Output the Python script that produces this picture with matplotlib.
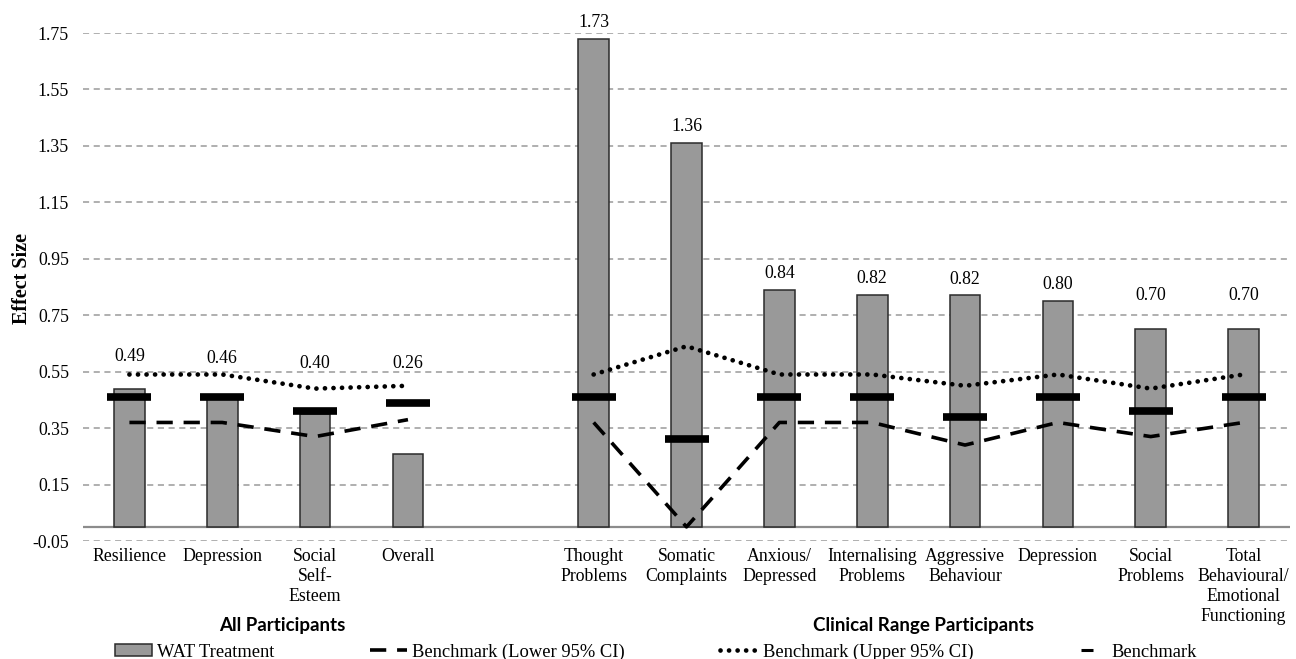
import numpy as np
import matplotlib
matplotlib.use("Agg")
from matplotlib import pyplot as plt
from matplotlib.lines import Line2D
from matplotlib.patches import Patch
from matplotlib import transforms

plt.rcParams['font.family'] = ['Liberation Serif', 'DejaVu Serif']

# categories (two groups, an empty slot between them)
group1 = ["Resilience", "Depression", "Social\nSelf-\nEsteem", "Overall"]
group2 = ["Thought\nProblems", "Somatic\nComplaints", "Anxious/\nDepressed", "Internalising\nProblems",
          "Aggressive\nBehaviour", "Depression", "Social\nProblems", "Total\nBehavioural/\nEmotional\nFunctioning"]
group_titles = ["All Participants", "Clinical Range Participants"]

wat = [0.49, 0.46, 0.40, 0.26, 1.73, 1.36, 0.84, 0.82, 0.82, 0.80, 0.70, 0.70]
benchmark = [0.46, 0.46, 0.41, 0.44, 0.46, 0.31, 0.46, 0.46, 0.39, 0.46, 0.41, 0.46]
lower_ci = [0.37, 0.37, 0.32, 0.38, 0.37, 0.00, 0.37, 0.37, 0.29, 0.37, 0.32, 0.37]
upper_ci = [0.54, 0.54, 0.49, 0.50, 0.54, 0.64, 0.54, 0.54, 0.50, 0.54, 0.49, 0.54]

yticks = np.arange(-0.05, 1.76, 0.2)

# layout: where the value labels sit (centre, data units)
label_y = [0.605, 0.595, 0.58, 0.58, 1.787, 1.418, 0.897, 0.879, 0.876, 0.858, 0.819, 0.819]

x = np.r_[0:4, 5:13]
labels = group1 + group2
n1 = len(group1)
fs = 12.8

fig = plt.figure(figsize=(12.96, 6.59), dpi=100)
ax = fig.add_axes([83 / 1296, 1 - 541 / 659, (1290 - 83) / 1296, (541 - 33) / 659])

ax.set_xlim(-0.5, 12.5)
ax.set_ylim(-0.05, 1.75)
ax.set_yticks(yticks)
ax.set_yticklabels([f"{t:.2f}" for t in yticks])
for t in yticks:
    ax.axhline(t, color="#9a9a9a", lw=1.1, ls=(0, (4, 3)), zorder=0)
ax.axhline(0, color="#8c8c8c", lw=1.6, zorder=1)

ax.bar(x, wat, width=0.33, color="#999999", edgecolor="#2b2b2b", lw=1.1, zorder=2)

dash_style = (0, (4.5, 3))
dot_style = (0, (0.01, 1.8))
for seg in (slice(0, n1), slice(n1, None)):
    ax.plot(x[seg], lower_ci[seg], color="black", lw=2.6, ls=dash_style, zorder=3)
    ax.plot(x[seg], upper_ci[seg], color="black", lw=3.4, ls=dot_style,
            dash_capstyle="round", zorder=3)
ax.plot(x, benchmark, ls="none", marker="_", markersize=31, markeredgewidth=5.5,
        color="black", zorder=4)

for xi, v, ly in zip(x, wat, label_y):
    ax.text(xi, ly, f"{v:.2f}", ha="center", va="center", fontsize=fs, clip_on=False)

ax.set_xticks(x)
ax.set_xticklabels(labels, fontsize=fs, linespacing=1.24)
ax.tick_params(axis="both", length=0, labelsize=fs)
ax.tick_params(axis="x", pad=5)
ax.tick_params(axis="y", pad=10)
for s in ax.spines.values():
    s.set_visible(False)
ax.set_ylabel("Effect Size", fontsize=14.5, fontweight="bold")
ax.yaxis.set_label_coords(-0.0425, 0.516)

trans = transforms.blended_transform_factory(ax.transData, fig.transFigure)
ax.text(1.65, 1 - 625 / 659, group_titles[0], transform=trans, ha="center", va="center",
        fontsize=13.5, fontweight="bold", family=["Lato", "DejaVu Sans"])
ax.text(8.55, 1 - 625 / 659, group_titles[1], transform=trans, ha="center", va="center",
        fontsize=13.5, fontweight="bold", family=["Lato", "DejaVu Sans"])

handles = [
    Patch(facecolor="#999999", edgecolor="#2b2b2b", lw=1.1),
    Line2D([], [], color="black", lw=2.6, ls=dash_style),
    Line2D([], [], color="black", lw=3.4, ls=dot_style, dash_capstyle="round"),
    Line2D([], [], ls="none", marker="_", markersize=9, markeredgewidth=2.2, color="black"),
]
leg_labels = ["WAT Treatment", "Benchmark (Lower 95% CI)", "Benchmark (Upper 95% CI)", "Benchmark"]
fig.legend(handles, leg_labels, loc="center left", bbox_to_anchor=(115 / 1296, 1 - 652 / 659),
           ncol=4, frameon=False, fontsize=13.3, handlelength=2.0, handletextpad=0.3,
           columnspacing=5.15, borderpad=0, borderaxespad=0, handleheight=0.6)

fig.savefig("out.png", dpi=100)
